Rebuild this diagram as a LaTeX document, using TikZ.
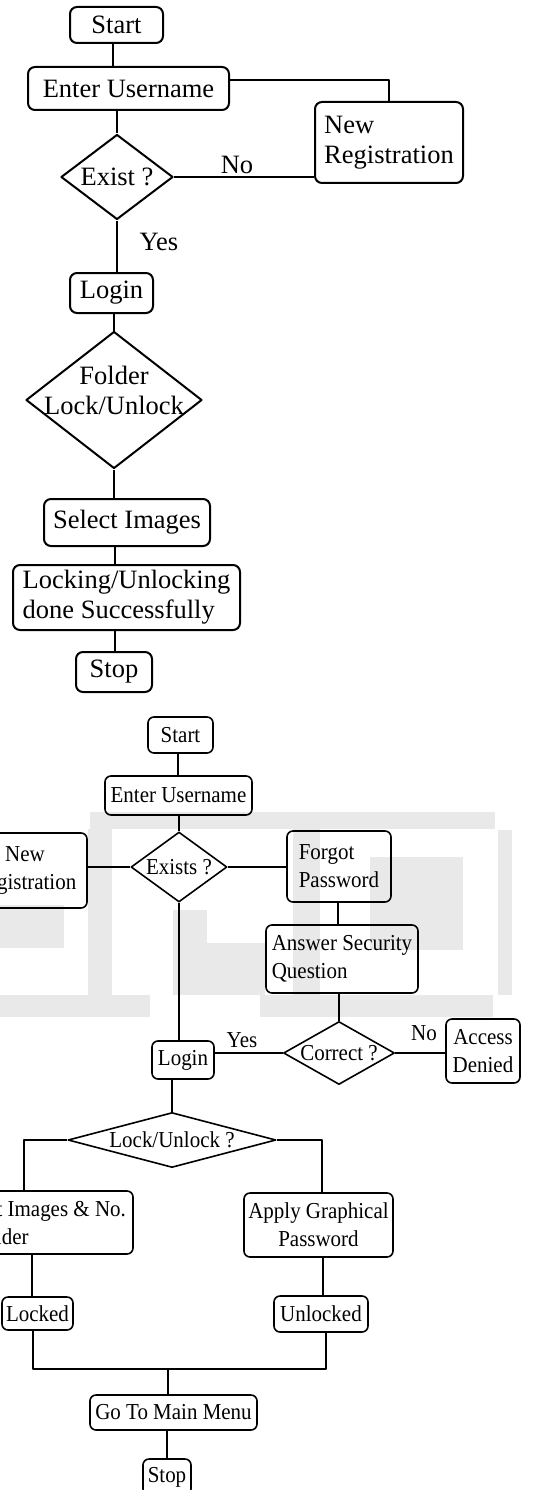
\documentclass[tikz,border=0pt]{standalone}
\usepackage{fontspec}
\setmainfont{Liberation Serif}
\newfontfamily\condfont[FakeStretch=0.92]{Liberation Serif}
\usetikzlibrary{shapes.geometric}
\newcommand\topfont{\fontsize{26.5}{30}\selectfont}
\newcommand\botfont{\condfont\fontsize{22.8}{28}\selectfont}
\definecolor{wm}{RGB}{233,233,233}
\begin{document}
\begin{tikzpicture}[x=1pt,y=-1pt, line join=round,
  tbox/.style={draw, rectangle, rounded corners=7pt, inner sep=0pt, font=\topfont, line width=2pt},
  bbox/.style={draw, rectangle, rounded corners=6pt, inner sep=0pt, font=\botfont, line width=1.6pt},
  tdia/.style={draw, diamond, inner sep=0pt, line width=2pt},
  bdia/.style={draw, diamond, inner sep=0pt, line width=1.6pt},
  tline/.style={line width=2pt},
  bline/.style={line width=1.6pt},
  tlab/.style={font=\topfont, inner sep=0pt},
  blab/.style={font=\botfont, inner sep=0pt}]
\useasboundingbox (0,0) rectangle (538,1490);
\clip (0,0) rectangle (538,1490);
\fill[white] (0,0) rectangle (538,1490);
% watermark
\fill[wm] (90,812) rectangle (495,829);
\fill[wm] (88,829) rectangle (112,995);
\fill[wm] (0,905) rectangle (64,948);
\fill[wm] (0,995) rectangle (150,1017);
\fill[wm] (260,995) rectangle (493,1017);
\fill[wm] (173,910) rectangle (207,995);
\fill[wm] (207,943) rectangle (265,995);
\fill[wm] (293,829) rectangle (320,995);
\fill[wm] (370,857) rectangle (463,950);
\fill[wm] (498,830) rectangle (512,995);

% ---------------- top flowchart
\node[tbox, minimum width=93, minimum height=36] (s1) at (116.5,25) {Start};
\node[tbox, minimum width=201, minimum height=43] (u1) at (128.5,88.5) {Enter Username};
\node[tbox, minimum width=148, minimum height=81, align=left] (nr1) at (389,142.5) {New\\Registration};
\node[tdia, minimum width=112, minimum height=85, label={[tlab]center:Exist ?}] (d1) at (117,177) {};
\node[tbox, minimum width=83, minimum height=40] (l1) at (111.5,293) {Login};
\node[tdia, minimum width=176, minimum height=137, label={[tlab, align=center, yshift=10pt]center:Folder\\Lock/Unlock}] (d2) at (114,400) {};
\node[tbox, minimum width=166, minimum height=47] (si1) at (127,522.5) {Select Images};
\node[tbox, minimum width=227, minimum height=65, align=left] (ld) at (126.5,597.5) {Locking/Unlocking\\done Successfully};
\node[tbox, minimum width=76, minimum height=40] (st1) at (114,672) {Stop};
\node[tlab] (no1) at (237,165) {No};
\node[tlab] (yes1) at (159,242) {Yes};

\draw[tline] ([xshift=-3.5pt]s1.south) -- ([xshift=-3.5pt]s1.south |- u1.north);
\draw[tline] ([yshift=8.5pt]u1.east) -| (nr1.north);
\draw[tline] (d1.north |- u1.south) -- (d1.north);
\draw[tline] (d1.east) -- (d1.east -| nr1.west);
\draw[tline] (d1.south) -- (d1.south |- l1.north);
\draw[tline] (d2.north |- l1.south) -- (d2.north);
\draw[tline] (d2.south) -- (d2.south |- si1.north);
\draw[tline] ([xshift=-12pt]si1.south) -- ([xshift=-12pt]si1.south |- ld.north);
\draw[tline] ([xshift=-11.5pt]ld.south) -- ([xshift=-11.5pt]ld.south |- st1.north);

% ---------------- bottom flowchart
\node[bbox, minimum width=65, minimum height=36] (s2) at (180.5,735) {Start};
\node[bbox, minimum width=147, minimum height=39] (u2) at (178.5,795.5) {Enter Username};
\node[bdia, minimum width=96, minimum height=70, label={[blab]center:Exists ?}] (d3) at (179,867) {};
\node[bbox, minimum width=124, minimum height=75, align=center] (nr2) at (25,870.5) {New\\Registration};
\node[bbox, minimum width=104, minimum height=71, align=left] (fp) at (339,866.5) {Forgot\\Password};
\node[bbox, minimum width=152, minimum height=68, align=left] (as) at (342,959) {Answer Security\\Question};
\node[bdia, minimum width=111, minimum height=63, label={[blab]center:Correct ?}] (d4) at (339,1053) {};
\node[bbox, minimum width=74, minimum height=64, align=center] (ad) at (483,1051) {Access\\Denied};
\node[bbox, minimum width=62, minimum height=38] (l2) at (183,1060) {Login};
\node[bdia, minimum width=208, minimum height=55, label={[blab]center:Lock/Unlock ?}] (d5) at (172,1140) {};
\node[bbox, minimum width=189, minimum height=63, align=left] (sf) at (38.5,1222.5) {Select Images \& No.\\of Folder};
\node[bbox, minimum width=149, minimum height=64, align=center] (ag) at (318.5,1225) {Apply Graphical\\Password};
\node[bbox, minimum width=71, minimum height=33] (lk) at (37.5,1313.5) {Locked};
\node[bbox, minimum width=94, minimum height=36] (ul) at (321,1314) {Unlocked};
\node[bbox, minimum width=167, minimum height=35] (gm) at (173.5,1412.5) {Go To Main Menu};
\node[bbox, minimum width=48, minimum height=36] (st2) at (167,1477) {Stop};
\node[blab] (yes2) at (242,1040) {Yes};
\node[blab] (no2) at (424,1033) {No};
\coordinate (mg) at (168,1369);

\draw[bline] ([xshift=-2.5pt]s2.south) -- ([xshift=-2.5pt]s2.south |- u2.north);
\draw[bline] (d3.north |- u2.south) -- (d3.north);
\draw[bline] (d3.west) -- (d3.west -| nr2.east);
\draw[bline] (d3.east) -- (d3.east -| fp.west);
\draw[bline] ([xshift=-1pt]fp.south) -- ([xshift=-1pt]fp.south |- as.north);
\draw[bline] (d4.north |- as.south) -- (d4.north);
\draw[bline] (d4.east) -- (d4.east -| ad.west);
\draw[bline] (d4.west) -- (d4.west -| l2.east);
\draw[bline] (d3.south) -- (d3.south |- l2.north);
\draw[bline] (d5.north |- l2.south) -- (d5.north);
\draw[bline] (d5.west) -| ([xshift=-14.5pt]sf.north);
\draw[bline] (d5.east) -| ([xshift=3.5pt]ag.north);
\draw[bline] ([xshift=-6.5pt]sf.south) -- ([xshift=-6.5pt]sf.south |- lk.north);
\draw[bline] ([xshift=4.5pt]ag.south) -- ([xshift=4.5pt]ag.south |- ul.north);
\draw[bline] ([xshift=-4.5pt]lk.south) |- (mg) -| ([xshift=5pt]ul.south);
\draw[bline] (mg) -- (mg |- gm.north);
\draw[bline] ([xshift=-6.5pt]gm.south) -- ([xshift=-6.5pt]gm.south |- st2.north);
\end{tikzpicture}
\end{document}
